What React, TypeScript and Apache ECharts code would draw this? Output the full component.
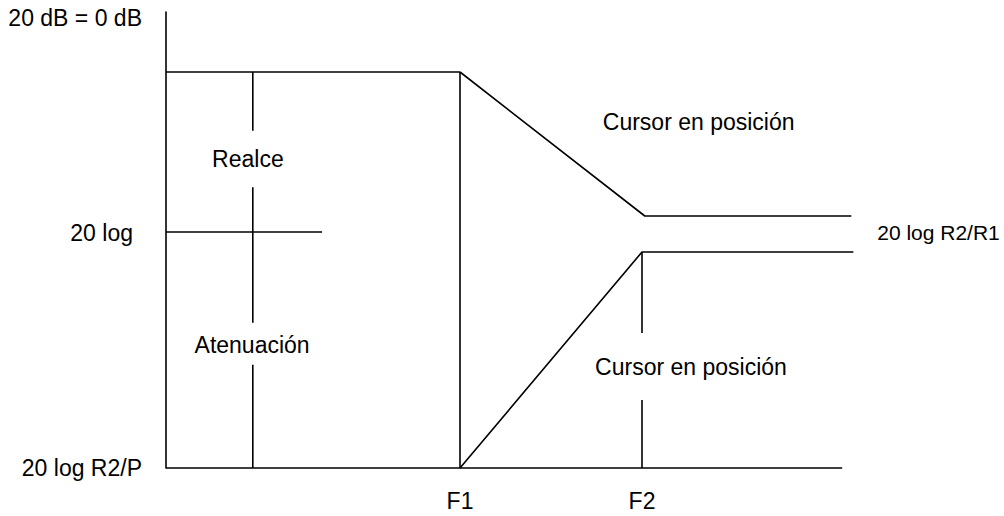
import React, { useEffect, useRef } from "react";
import * as echarts from "echarts";

// Frequency axis (relative units) and level axis (relative units)
const xTickValues = [42, 68];
const xTickLabels = ["F1", "F2"];
const yTickValues = [0, 19.6, 37.5];
const yTickLabels = ["20 log R2/P", "20 log", "20 dB = 0 dB"];

// Line segments of the diagram
const topLevel = [[0, 33], [42, 33]];
const midLevel = [[0, 19.67], [22.3, 19.67]];
const baseLevel = [[0, 0], [96.6, 0]];
const f1Line = [[42, 33], [42, 0]];
const cutCurve = [[42, 33], [68.4, 21], [97.9, 21]];
const boostCurve = [[42, 0], [68, 18], [98.2, 18]];
const f2Upper = [[68, 18], [68, 11.25]];
const f2Lower = [[68, 5.67], [68, 0]];
const refUpper = [[12.4, 33], [12.4, 28.1]];
const refMid = [[12.4, 23.4], [12.4, 12.1]];
const refLower = [[12.4, 8.6], [12.4, 0]];

// Annotations
const centeredNotes = [
  { name: "Realce", value: [11.7, 25.75] },
  { name: "Atenuación", value: [12.3, 10.25] },
];
const leftNotes = [
  { name: "Cursor en posición", value: [62.4, 28.8] },
  { name: "Cursor en posición", value: [61.3, 8.4] },
];
const sideNotes = [{ name: "20 log R2/R1", value: [101.6, 19.6] }];

const FONT = "'Liberation Sans', Arial, sans-serif";
const FS = 23;
const LINE_W = 1.6;

export default function App() {
  const ref = useRef<HTMLDivElement>(null);
  useEffect(() => {
    if (!ref.current) return;
    const chart = echarts.init(ref.current, undefined, { renderer: "svg" });
    const segments = [
      topLevel, midLevel, baseLevel, f1Line, cutCurve, boostCurve,
      f2Upper, f2Lower, refUpper, refMid, refLower,
    ];
    const noteLabel = {
      show: true,
      formatter: "{b}",
      color: "#000",
      opacity: 1,
      fontFamily: FONT,
      fontSize: FS,
      textBorderWidth: 0,
    };
    chart.setOption({
      animation: false,
      backgroundColor: "#ffffff",
      grid: { left: 166, top: 12, width: 700, height: 456 },
      xAxis: {
        type: "value",
        min: 0,
        max: 100,
        axisLine: { show: false },
        axisTick: { show: false },
        splitLine: { show: false },
        axisLabel: {
          customValues: xTickValues,
          formatter: (v: number) => {
            const i = xTickValues.indexOf(v);
            return i >= 0 ? xTickLabels[i] : "";
          },
          margin: 21,
          color: "#000",
          fontFamily: FONT,
          fontSize: FS,
        },
      },
      yAxis: {
        type: "value",
        min: 0,
        max: 38,
        axisLine: { show: true, lineStyle: { color: "#000", width: LINE_W } },
        axisTick: { show: false },
        splitLine: { show: false },
        axisLabel: {
          customValues: yTickValues,
          formatter: (v: number) => {
            const i = yTickValues.indexOf(v);
            if (i < 0) return "";
            return i === 1 ? "{p|" + yTickLabels[i] + "}" : yTickLabels[i];
          },
          rich: { p: { padding: [0, 9, 0, 0], fontSize: FS, fontFamily: FONT, color: "#000" } },
          margin: 24,
          color: "#000",
          fontFamily: FONT,
          fontSize: FS,
        },
      },
      series: [
        ...segments.map((d) => ({
          type: "line",
          data: d,
          symbol: "none",
          silent: true,
          clip: false,
          lineStyle: { color: "#000", width: LINE_W },
        })),
        {
          type: "scatter",
          data: centeredNotes,
          symbolSize: 0,
          silent: true,
          clip: false,
          label: { ...noteLabel, position: "inside" },
        },
        {
          type: "scatter",
          data: leftNotes,
          symbolSize: 0,
          silent: true,
          clip: false,
          label: { ...noteLabel, position: "right", distance: 0 },
        },
        {
          type: "scatter",
          data: sideNotes,
          symbolSize: 0,
          silent: true,
          clip: false,
          label: { ...noteLabel, fontSize: 21, position: "right", distance: 0 },
        },
      ],
    });
    return () => chart.dispose();
  }, []);
  return (
    <div
      ref={ref}
      style={{ position: "fixed", left: 0, top: 0, width: 1004, height: 516 }}
    />
  );
}
